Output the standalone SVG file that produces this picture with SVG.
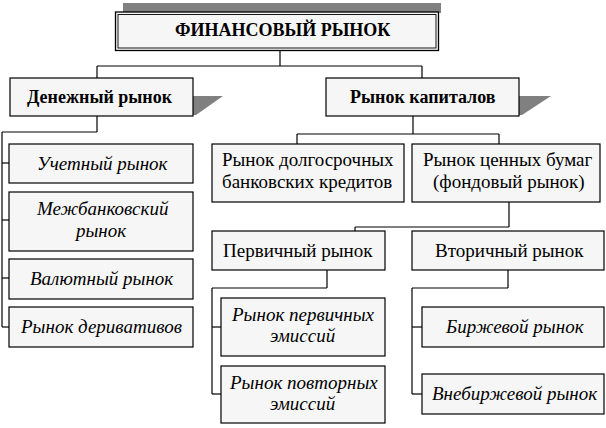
<svg xmlns="http://www.w3.org/2000/svg" width="606" height="428" viewBox="0 0 606 428">
<rect width="606" height="428" fill="#fff"/>
<g id="connectors" stroke="#000" stroke-width="1.2">
<line x1="280" y1="50" x2="280" y2="66"/>
<line x1="97" y1="66" x2="422" y2="66"/>
<line x1="97" y1="66" x2="97" y2="78"/>
<line x1="422" y1="66" x2="422" y2="78"/>
<line x1="97" y1="116" x2="97" y2="132"/>
<line x1="2" y1="132" x2="97" y2="132"/>
<line x1="2" y1="132" x2="2" y2="327"/>
<line x1="2" y1="163" x2="9" y2="163"/>
<line x1="2" y1="220" x2="9" y2="220"/>
<line x1="2" y1="278" x2="9" y2="278"/>
<line x1="2" y1="327" x2="9" y2="327"/>
<line x1="413" y1="116" x2="413" y2="134"/>
<line x1="297" y1="134" x2="499" y2="134"/>
<line x1="297" y1="134" x2="297" y2="144"/>
<line x1="499" y1="134" x2="499" y2="144"/>
<line x1="509" y1="202" x2="509" y2="227"/>
<line x1="355" y1="227" x2="509" y2="227"/>
<line x1="355" y1="227" x2="355" y2="231"/>
<line x1="327" y1="270" x2="327" y2="288"/>
<line x1="212" y1="288" x2="327" y2="288"/>
<line x1="212" y1="288" x2="212" y2="394"/>
<line x1="212" y1="327" x2="221" y2="327"/>
<line x1="212" y1="394" x2="221" y2="394"/>
<line x1="508" y1="270" x2="508" y2="288"/>
<line x1="412" y1="288" x2="508" y2="288"/>
<line x1="412" y1="288" x2="412" y2="394"/>
<line x1="412" y1="327" x2="422" y2="327"/>
<line x1="412" y1="394" x2="422" y2="394"/>
</g>
<g id="title">
<rect x="123" y="3" width="318" height="10" fill="#808080"/>
<rect x="115.5" y="12" width="323" height="38.5" fill="#f6f6f6" stroke="#000" stroke-width="1.3"/>
<rect x="118" y="14.5" width="318" height="33.5" fill="none" stroke="#000" stroke-width="0.9"/>
<text x="175" y="36" font-family="Liberation Serif" font-size="18" font-weight="bold">ФИНАНСОВЫЙ РЫНОК</text>
</g>
<g id="money">
<polygon points="193,96 223,96 196,115 193,115" fill="#808080"/>
<rect x="10" y="78" width="183" height="38" fill="#f6f6f6" stroke="#000" stroke-width="1.2"/>
<text x="27" y="103" font-family="Liberation Serif" font-size="18" font-weight="bold">Денежный рынок</text>
</g>
<g id="capital">
<polygon points="519,96 551,96 522,115 519,115" fill="#808080"/>
<rect x="326" y="78" width="193" height="38" fill="#f6f6f6" stroke="#000" stroke-width="1.2"/>
<text x="350" y="103" font-family="Liberation Serif" font-size="18" font-weight="bold">Рынок капиталов</text>
</g>
<g id="discount">
<rect x="9" y="144" width="184" height="39" fill="#f6f6f6" stroke="#000" stroke-width="1.2"/>
<text x="37" y="170" font-family="Liberation Serif" font-size="19" font-style="italic">Учетный рынок</text>
</g>
<g id="interbank">
<rect x="9" y="192" width="184" height="59" fill="#f6f6f6" stroke="#000" stroke-width="1.2"/>
<text x="37" y="215" font-family="Liberation Serif" font-size="19" font-style="italic">Межбанковский</text>
<text x="76" y="237" font-family="Liberation Serif" font-size="19" font-style="italic">рынок</text>
</g>
<g id="currency">
<rect x="9" y="259" width="184" height="40" fill="#f6f6f6" stroke="#000" stroke-width="1.2"/>
<text x="30" y="285" font-family="Liberation Serif" font-size="19" font-style="italic">Валютный рынок</text>
</g>
<g id="derivatives">
<rect x="9" y="307" width="184" height="40" fill="#f6f6f6" stroke="#000" stroke-width="1.2"/>
<text x="21" y="333" font-family="Liberation Serif" font-size="19" font-style="italic">Рынок деривативов</text>
</g>
<g id="longterm">
<rect x="212" y="144" width="192" height="58" fill="#f6f6f6" stroke="#000" stroke-width="1.2"/>
<text x="222" y="166" font-family="Liberation Serif" font-size="19">Рынок долгосрочных</text>
<text x="222" y="188" font-family="Liberation Serif" font-size="19">банковских кредитов</text>
</g>
<g id="securities">
<rect x="412" y="144" width="188" height="58" fill="#f6f6f6" stroke="#000" stroke-width="1.2"/>
<text x="423" y="166" font-family="Liberation Serif" font-size="19">Рынок ценных бумаг</text>
<text x="433" y="188" font-family="Liberation Serif" font-size="19">(фондовый рынок)</text>
</g>
<g id="primary">
<rect x="212" y="231" width="173" height="39" fill="#f6f6f6" stroke="#000" stroke-width="1.2"/>
<text x="223" y="257" font-family="Liberation Serif" font-size="19">Первичный рынок</text>
</g>
<g id="secondary">
<rect x="412" y="231" width="192" height="39" fill="#f6f6f6" stroke="#000" stroke-width="1.2"/>
<text x="435" y="257" font-family="Liberation Serif" font-size="19">Вторичный рынок</text>
</g>
<g id="primary-issues">
<rect x="221" y="298" width="164" height="58" fill="#f6f6f6" stroke="#000" stroke-width="1.2"/>
<text x="232" y="321" font-family="Liberation Serif" font-size="19" font-style="italic">Рынок первичных</text>
<text x="270" y="342" font-family="Liberation Serif" font-size="19" font-style="italic">эмиссий</text>
</g>
<g id="repeat-issues">
<rect x="221" y="366" width="164" height="57" fill="#f6f6f6" stroke="#000" stroke-width="1.2"/>
<text x="230" y="389" font-family="Liberation Serif" font-size="19" font-style="italic">Рынок повторных</text>
<text x="270" y="410" font-family="Liberation Serif" font-size="19" font-style="italic">эмиссий</text>
</g>
<g id="exchange">
<rect x="422" y="307" width="182" height="40" fill="#f6f6f6" stroke="#000" stroke-width="1.2"/>
<text x="446" y="333" font-family="Liberation Serif" font-size="19" font-style="italic">Биржевой рынок</text>
</g>
<g id="otc">
<rect x="422" y="374" width="182" height="40" fill="#f6f6f6" stroke="#000" stroke-width="1.2"/>
<text x="432" y="400" font-family="Liberation Serif" font-size="19" font-style="italic">Внебиржевой рынок</text>
</g>
</svg>
